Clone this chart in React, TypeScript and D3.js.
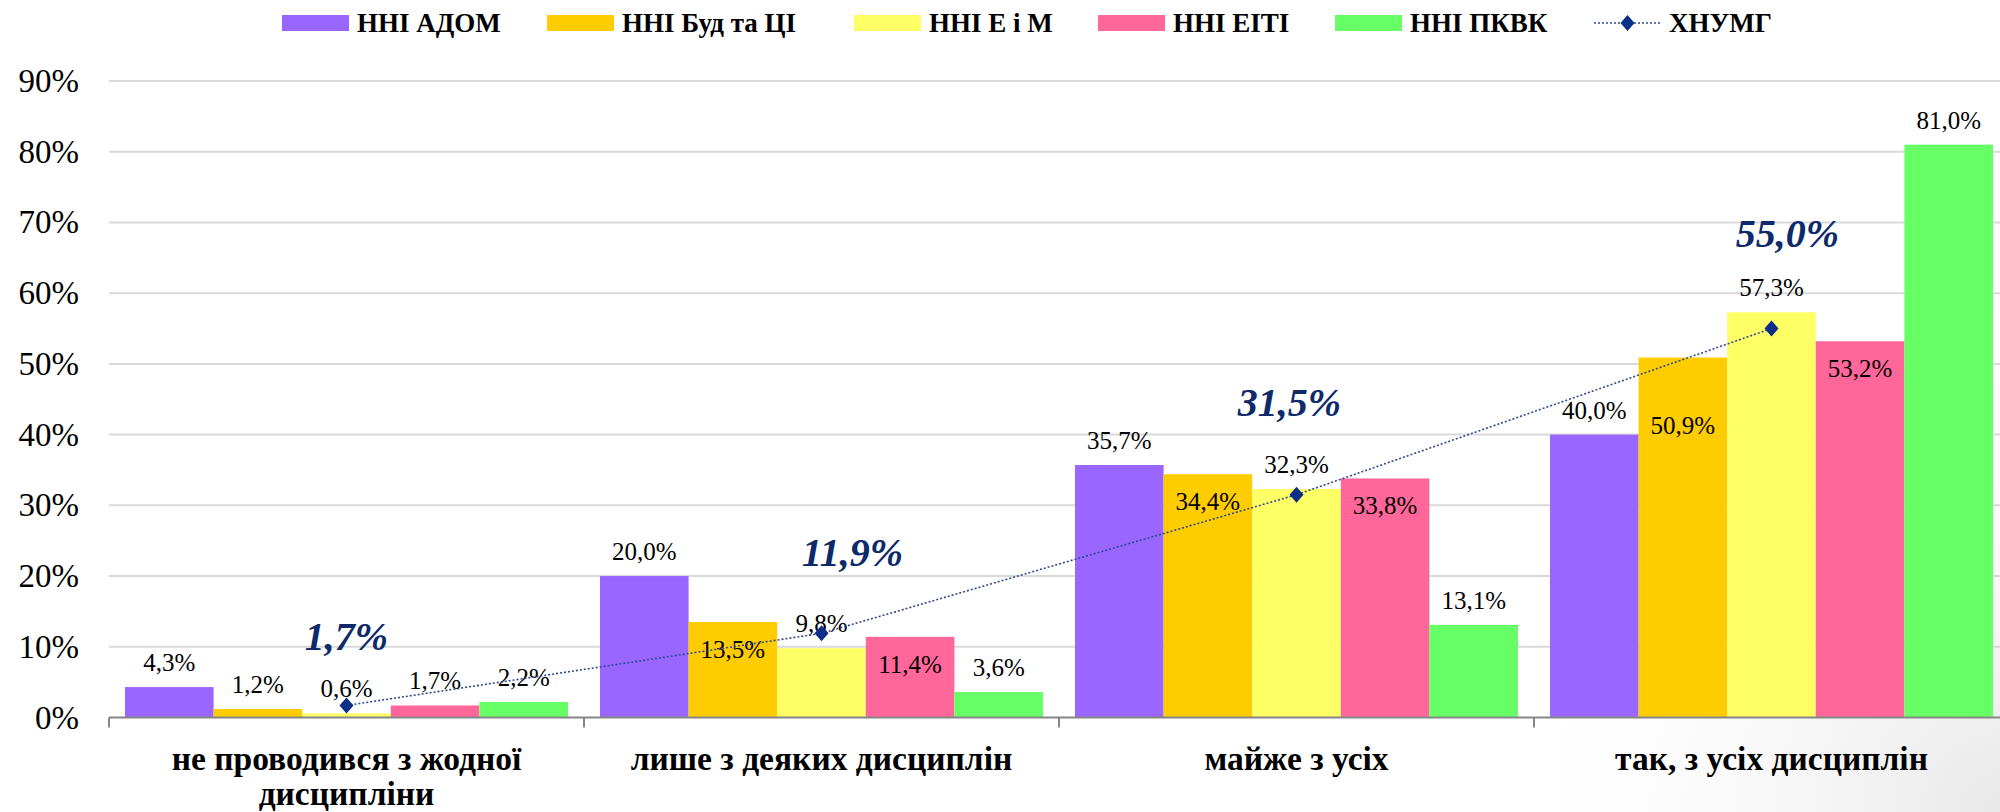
import React from "react";
import * as d3 from "d3";

// ---- data ----
const categories = [
  "не проводився з жодної дисципліни",
  "лише з деяких дисциплін",
  "майже з усіх",
  "так, з усіх дисциплін",
];
const seriesNames = ["ННІ АДОМ", "ННІ Буд та ЦІ", "ННІ Е і М", "ННІ ЕІТІ", "ННІ ПКВК"];
const adom = [4.3, 20.0, 35.7, 40.0];
const bud = [1.2, 13.5, 34.4, 50.9];
const eim = [0.6, 9.8, 32.3, 57.3];
const eiti = [1.7, 11.4, 33.8, 53.2];
const pkvk = [2.2, 3.6, 13.1, 81.0];
const lineName = "ХНУМГ";
const khnumg = [1.7, 11.9, 31.5, 55.0];
const yTicks = [0, 10, 20, 30, 40, 50, 60, 70, 80, 90];

// ---- styling ----
const colors = ["#9966FF", "#FFCC00", "#FFFF66", "#FF6699", "#66FF66"];
// where each bar label sits: "out" above the bar, "in" just inside its top, "low" deeper inside
const labelPlace = [
  ["out", "out", "out", "out"],
  ["out", "in", "in", "low"],
  ["out", "out", "out", "out"],
  ["out", "in", "in", "in"],
  ["out", "out", "out", "out"],
];
// nudges for the big line labels (hand placed in the original)
const lineLabelDx = [0, 31, -7, 16];
const lineLabelDy = [-69, -81, -92, -95];
// legend item starts (the original font is wider than ours)
const legendX = [282, 547, 854, 1098, 1335, 1594];

const W = 2000;
const H = 812;
const FONT = "'Liberation Serif', 'Times New Roman', serif";
const NAVY = "#0E2A6A";

const ctx = typeof document !== "undefined" ? document.createElement("canvas").getContext("2d") : null;
const textWidth = (s: string, font: string) => {
  if (!ctx) return s.length * 14;
  ctx.font = font;
  return ctx.measureText(s).width;
};

const fmt = (v: number) => v.toFixed(1).replace(".", ",") + "%";

const wrap = (s: string, maxW: number, font: string) => {
  const words = s.split(" ");
  const lines: string[] = [];
  let cur = "";
  words.forEach((w) => {
    const t = cur ? cur + " " + w : w;
    if (cur && textWidth(t, font) > maxW) {
      lines.push(cur);
      cur = w;
    } else cur = t;
  });
  if (cur) lines.push(cur);
  return lines;
};

export default function App() {
  const values = [adom, bud, eim, eiti, pkvk];

  const x = d3.scaleBand<string>().domain(categories).range([109, 2009]).padding(0);
  const xi = d3
    .scaleBand<number>()
    .domain(d3.range(seriesNames.length))
    .range([16, x.bandwidth() - 16])
    .padding(0);
  const y = d3.scaleLinear().domain([0, 90]).range([717.5, 81]);

  const line = d3
    .line<number>()
    .x((_, i) => x(categories[i])! + x.bandwidth() / 2)
    .y((d) => y(d));

  const catSize = 33.5;
  const catFont = `bold ${catSize}px ${FONT}`;

  return (
    <svg
      width={W}
      height={H}
      style={{ position: "absolute", left: 0, top: 0, background: "#fff" }}
      fontFamily={FONT}
    >
      <defs>
        <radialGradient id="corner" cx={W} cy={H} r={520} gradientUnits="userSpaceOnUse">
          <stop offset="0" stopColor="#E8E8E8" />
          <stop offset="1" stopColor="#FFFFFF" stopOpacity={0} />
        </radialGradient>
      </defs>
      <rect x={0} y={0} width={W} height={H} fill="url(#corner)" />

      {/* gridlines */}
      {yTicks.slice(1).map((t) => (
        <line key={t} x1={109} x2={W} y1={y(t)} y2={y(t)} stroke="#D9D9D9" strokeWidth={2} />
      ))}
      {/* y labels */}
      {yTicks.map((t) => (
        <text key={t} x={79} y={y(t)} textAnchor="end" dominantBaseline="central" fontSize={33} fill="#000">
          {t}%
        </text>
      ))}

      {/* bars */}
      {values.map((vals, s) =>
        vals.map((v, c) => (
          <rect
            key={`${s}-${c}`}
            x={x(categories[c])! + xi(s)!}
            y={y(v)}
            width={xi.bandwidth()}
            height={y(0) - y(v)}
            fill={colors[s]}
          />
        ))
      )}

      {/* axis */}
      <line x1={109} x2={W} y1={y(0)} y2={y(0)} stroke="#868686" strokeWidth={2} />
      {categories.map((c) => (
        <line key={c} x1={x(c)!} x2={x(c)!} y1={y(0)} y2={y(0) + 10} stroke="#868686" strokeWidth={2} />
      ))}

      {/* category labels */}
      {categories.map((c) => {
        const lines = wrap(c, 440, catFont);
        return (
          <text key={c} x={x(c)! + x.bandwidth() / 2} textAnchor="middle" fontSize={catSize} fontWeight="bold" fill="#000">
            {lines.map((l, k) => (
              <tspan key={k} x={x(c)! + x.bandwidth() / 2} y={770 + k * 35}>
                {l}
              </tspan>
            ))}
          </text>
        );
      })}

      {/* bar labels */}
      {values.map((vals, s) =>
        vals.map((v, c) => {
          const place = labelPlace[s][c];
          const top = y(v);
          const by = place === "out" ? top - 16 : place === "in" ? top + 36 : top + 76;
          return (
            <text
              key={`l${s}-${c}`}
              x={x(categories[c])! + xi(s)! + xi.bandwidth() / 2}
              y={by}
              textAnchor="middle"
              fontSize={25}
              fill="#000"
            >
              {fmt(v)}
            </text>
          );
        })
      )}

      {/* line series */}
      <path d={line(khnumg) || ""} fill="none" stroke="#2F4A8C" strokeWidth={1.6} strokeDasharray="2 2" />
      {khnumg.map((v, i) => {
        const cx = x(categories[i])! + x.bandwidth() / 2;
        const cy = y(v);
        return (
          <path key={`m${i}`} d={`M${cx},${cy - 8}L${cx + 7},${cy}L${cx},${cy + 8}L${cx - 7},${cy}Z`} fill="#0B2E88" />
        );
      })}
      {khnumg.map((v, i) => (
        <text
          key={`ll${i}`}
          x={x(categories[i])! + x.bandwidth() / 2 + lineLabelDx[i]}
          y={y(v) + lineLabelDy[i]}
          textAnchor="middle"
          dominantBaseline="central"
          fontSize={40}
          fontWeight="bold"
          fontStyle="italic"
          fill={NAVY}
        >
          {fmt(v)}
        </text>
      ))}

      {/* legend */}
      {[...seriesNames, lineName].map((name, i) => (
        <g key={name} transform={`translate(${legendX[i]},23)`}>
          {i < seriesNames.length ? (
            <rect x={0} y={-8} width={67} height={16} fill={colors[i]} />
          ) : (
            <>
              <line x1={0} x2={67} y1={0} y2={0} stroke="#2F4A8C" strokeWidth={1.6} strokeDasharray="2 2" />
              <path d="M33.5,-8L40.5,0L33.5,8L26.5,0Z" fill="#0B2E88" />
            </>
          )}
          <text x={75} y={0} dominantBaseline="central" fontSize={27} fontWeight="bold" fill="#000">
            {name}
          </text>
        </g>
      ))}
    </svg>
  );
}
